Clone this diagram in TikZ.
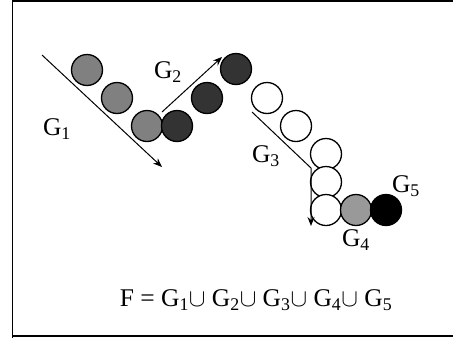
\documentclass[tikz,border=0pt]{standalone}
\usepackage{fontspec}
\setmainfont{Liberation Serif}
\usetikzlibrary{arrows.meta, positioning}

\begin{document}
\begin{tikzpicture}[x=1pt,y=-1pt,font=\fontsize{25.5}{28}\selectfont,
    ball/.style={draw, circle, line width=1.3pt, minimum size=31pt, inner sep=0pt},
    path/.style={line width=1pt, -{Stealth[length=9pt,width=7pt,inset=3pt]}}]

\useasboundingbox (0,0) rectangle (453,338);

% frame
\draw[line width=1.5pt] (12.5,338) -- (12.5,1) -- (460,1);
\draw[line width=1.5pt] (12.5,336) -- (460,336);

% G1 balls
\node[ball, fill=black!50] (b1) at (87,70) {};
\node[ball, fill=black!50] (b2) at (117,98) {};
\node[ball, fill=black!50] (b3) at (147,126) {};

% G2 balls
\node[ball, fill=black!80] (b4) at (177,126) {};
\node[ball, fill=black!80] (b5) at (207,98) {};
\node[ball, fill=black!80] (b6) at (236,69) {};

% G3 balls
\node[ball, fill=white] (b7) at (267,98) {};
\node[ball, fill=white] (b8) at (296,126) {};
\node[ball, fill=white] (b9) at (326,154) {};
\node[ball, fill=white] (b10) at (326,182) {};
\node[ball, fill=white] (b11) at (326,210) {};

% G4 and G5
\node[ball, fill=black!40] (b12) at (356,210) {};
\node[ball, fill=black] (b13) at (386,210) {};

% arrow ends
\coordinate (s1) at (42,55);
\coordinate (e1) at (162,167);
\coordinate (s2) at (162,112);
\coordinate (e2) at (222,57);
\coordinate (s3) at (252,112);
\coordinate (k3) at (311,168);
\coordinate (e3) at (311,226);

% Arrows
\draw[path] (s1) -- (e1);
\draw[path] (s2) -- (e2);
\draw[path] (s3) -- (k3) -- (e3);

% labels
\node (g1) at (57,129) {G\textsubscript{1}};
\node (g2) at (168,72) {G\textsubscript{2}};
\node (g3) at (266,156) {G\textsubscript{3}};
\node (g4) at (356,240) {G\textsubscript{4}};
\node (g5) at (406,186) {G\textsubscript{5}};

\node (union) at (256,300) {F = G\textsubscript{1}$\cup$ G\textsubscript{2}$\cup$ G\textsubscript{3}$\cup$ G\textsubscript{4}$\cup$ G\textsubscript{5}};

\end{tikzpicture}
\end{document}
